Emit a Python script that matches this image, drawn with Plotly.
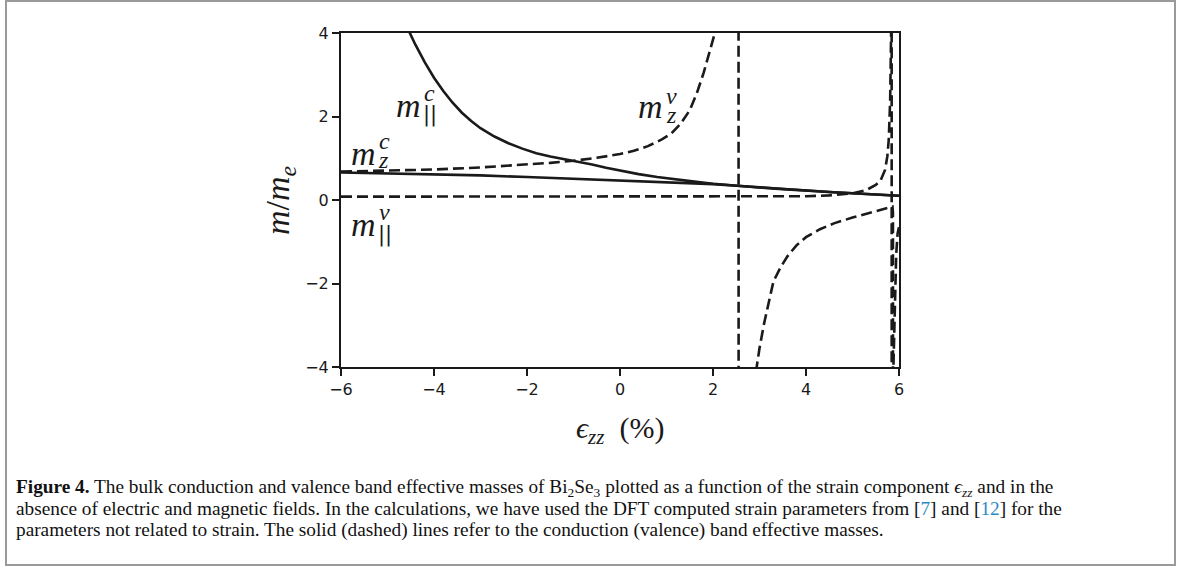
import plotly.graph_objects as go

# ---------------- data ----------------
# conduction band, in-plane mass m_||^c (solid)
mpar_c_x = [-4.70, -4.52, -4.40, -4.20, -4.00, -3.80, -3.60, -3.40, -3.20, -3.00, -2.70,
            -2.40, -2.10, -1.80, -1.50, -1.20, -0.90, -0.60, -0.30, 0.00, 0.40, 0.80,
            1.20, 1.60, 2.00, 2.50, 3.00, 3.50, 4.00, 4.50, 5.00, 5.50, 6.00]
mpar_c_y = [4.60, 4.00, 3.72, 3.30, 2.93, 2.61, 2.33, 2.09, 1.89, 1.72, 1.52,
            1.36, 1.23, 1.12, 1.04, 0.98, 0.92, 0.85, 0.77, 0.70, 0.62, 0.55,
            0.49, 0.44, 0.39, 0.34, 0.30, 0.26, 0.22, 0.19, 0.16, 0.13, 0.10]

# conduction band, out-of-plane mass m_z^c (solid)
mz_c_x = [-6.0, -5.0, -4.0, -3.0, -2.0, -1.0, 0.0, 1.0, 1.5, 2.0, 2.5, 3.0, 3.5,
          4.0, 4.5, 5.0, 5.5, 6.0]
mz_c_y = [0.66, 0.64, 0.62, 0.59, 0.55, 0.51, 0.47, 0.43, 0.41, 0.38, 0.34, 0.30, 0.26,
          0.22, 0.19, 0.16, 0.13, 0.10]

# valence band, out-of-plane mass m_z^v (dashed) - poles near 2.55 and 5.88
mz_v_x = [-6.0, -5.0, -4.0, -3.0, -2.0, -1.5, -1.0, -0.5, 0.0, 0.3, 0.6, 0.9, 1.1,
          1.3, 1.5, 1.65, 1.8, 1.9, 2.0, 2.04, 2.15, 2.25, 2.35, 2.45, 2.54, 2.56,
          2.7, 2.85, 2.94, 3.0, 3.1, 3.2, 3.3, 3.45, 3.6, 3.8, 4.0, 4.3, 4.6, 5.0,
          5.3, 5.6, 5.8, 5.86, 5.87, 5.878, 5.885]
mz_v_y = [0.68, 0.70, 0.73, 0.78, 0.85, 0.89, 0.94, 1.01, 1.10, 1.18, 1.29, 1.45, 1.59,
          1.82, 2.15, 2.55, 3.05, 3.45, 3.80, 4.00, 4.90, 6.30, 8.70, 16.0, 60.0, -60.0,
          -12.0, -5.5, -4.0, -3.55, -2.95, -2.45, -1.95, -1.62, -1.35, -1.08, -0.89, -0.70,
          -0.56, -0.42, -0.33, -0.25, -0.19, -0.16, -0.30, -1.5, -60.0]

# valence band, in-plane mass m_||^v (dashed) - pole near 5.84
mpar_v_x = [-6.0, -4.0, -2.0, 0.0, 2.0, 3.0, 4.0, 4.5, 5.0, 5.3, 5.5, 5.6, 5.7, 5.75,
            5.78, 5.81, 5.83, 5.84, 5.845, 5.88, 5.91, 5.94, 5.97, 6.0]
mpar_v_y = [0.08, 0.08, 0.08, 0.08, 0.08, 0.08, 0.09, 0.11, 0.16, 0.24, 0.36, 0.46, 0.72, 1.05,
            1.45, 2.40, 4.00, 40.0, -40.0, -4.0, -2.4, -1.3, -0.8, -0.65]

x_ticks = [-6, -4, -2, 0, 2, 4, 6]
y_ticks = [-4, -2, 0, 2, 4]

# ---------------- layout constants ----------------
W, H = 1179, 567
L, R, T, B = 341, 899, 33, 367          # plot area in pixels
INK = "#1a1a1a"
LW = 2.6
DASH = "11px,5px"
MATH = "Liberation Serif"


def px_x(p):
    return (p - L) / (R - L)


def px_y(p):
    return (B - p) / (B - T)


fig = go.Figure()

for xs, ys, dash in [
    (mpar_c_x, mpar_c_y, "solid"),
    (mz_c_x, mz_c_y, "solid"),
    (mz_v_x, mz_v_y, DASH),
    (mpar_v_x, mpar_v_y, DASH),
]:
    fig.add_trace(go.Scatter(x=xs, y=ys, mode="lines",
                             line=dict(color=INK, width=LW, dash=dash),
                             showlegend=False, hoverinfo="skip"))

axis_common = dict(showgrid=False, zeroline=False, showline=True, linecolor=INK,
                   linewidth=2, mirror=True, ticks="outside", ticklen=7, tickwidth=2,
                   tickcolor=INK, tickfont=dict(family="DejaVu Sans", size=16, color=INK))

fig.update_xaxes(range=[-6, 6], tickvals=x_ticks, **axis_common)
fig.update_yaxes(range=[-4, 4], tickvals=y_ticks, **axis_common)

anns = []


def math_label(x, y, sup, sub, sup_dx, sup_dy, sub_dx, sub_dy, bars=False):
    anns.append(dict(x=x, y=y, xref="x", yref="y", text="<i>m</i>", showarrow=False,
                     font=dict(family=MATH, size=34, color=INK), xanchor="center", yanchor="middle"))
    anns.append(dict(x=x, y=y, xref="x", yref="y", text="<i>%s</i>" % sup, showarrow=False,
                     xshift=sup_dx, yshift=sup_dy,
                     font=dict(family=MATH, size=24, color=INK), xanchor="center", yanchor="middle"))
    if bars:
        stxt, sfam, ssize = "||", "DejaVu Sans", 21
    else:
        stxt, sfam, ssize = "<i>%s</i>" % sub, MATH, 24
    anns.append(dict(x=x, y=y, xref="x", yref="y", text=stxt, showarrow=False,
                     xshift=sub_dx, yshift=sub_dy,
                     font=dict(family=sfam, size=ssize, color=INK),
                     xanchor="center", yanchor="middle"))


math_label(-4.54, 2.26, "c", "||", 21, 13, 21, -9, bars=True)
math_label(-5.51, 1.12, "c", "z", 21, 12, 20, -7)
math_label(0.65, 2.24, "v", "z", 21, 10, 21, -9)
math_label(-5.51, -0.58, "v", "||", 21, 12, 21, -10, bars=True)

# axis titles
anns.append(dict(x=px_x(280), y=0.5, xref="paper", yref="paper", textangle=-90,
                 text="<i>m</i>/<i>m</i><sub><i>e</i></sub>", showarrow=False,
                 font=dict(family=MATH, size=34, color=INK), xanchor="center", yanchor="middle"))
anns.append(dict(x=0.5, y=px_y(430), xref="paper", yref="paper",
                 text="<i>ϵ</i><sub><i>zz</i></sub>  (%)", showarrow=False,
                 font=dict(family=MATH, size=30, color=INK), xanchor="center", yanchor="middle"))

# caption
BLUE = "#2a8bc4"
cap = [
    "<b>Figure 4.</b> The bulk conduction and valence band effective masses of Bi<sub>2</sub>Se<sub>3</sub> "
    "plotted as a function of the strain component <i>ϵ</i><sub><i>zz</i></sub> and in the",
    "absence of electric and magnetic fields. In the calculations, we have used the DFT computed strain "
    "parameters from [<span style='color:%s'>7</span>] and [<span style='color:%s'>12</span>] for the" % (BLUE, BLUE),
    "parameters not related to strain. The solid (dashed) lines refer to the conduction (valence) band "
    "effective masses.",
]
for i, line in enumerate(cap):
    anns.append(dict(x=px_x(14), y=px_y(488 + 21 * i), xref="paper", yref="paper", text=line,
                     showarrow=False, xanchor="left", yanchor="middle", align="left",
                     font=dict(family="Liberation Serif", size=19.3, color="#111111")))

fig.update_layout(
    width=W, height=H, margin=dict(l=L, r=W - R, t=T, b=H - B, pad=0),
    paper_bgcolor="white", plot_bgcolor="white", annotations=anns,
    shapes=[dict(type="rect", xref="paper", yref="paper",
                 x0=px_x(6), x1=px_x(1175), y0=px_y(565), y1=px_y(1),
                 line=dict(color="#9a9a9a", width=2), fillcolor="rgba(0,0,0,0)", layer="below")],
)

fig.write_html("out.html", config={"displayModeBar": False},
               post_script="document.body.style.margin='0';document.body.style.overflow='hidden';")
